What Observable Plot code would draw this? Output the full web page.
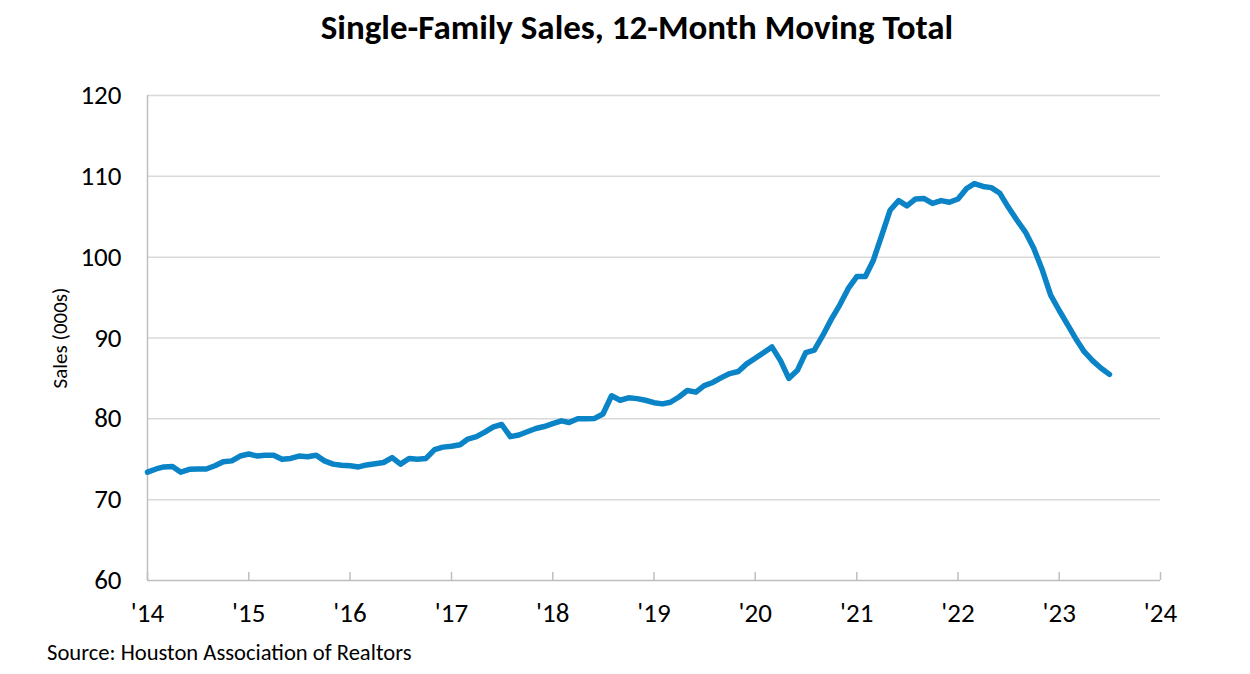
<!DOCTYPE html>
<html>
<head>
<meta charset="utf-8">
<script src="https://cdn.jsdelivr.net/npm/d3@7"></script>
<script src="https://cdn.jsdelivr.net/npm/@observablehq/plot@0.6"></script>
<style>
  html, body { margin: 0; padding: 0; background: #fff; }
  #wrap { position: relative; width: 1250px; height: 674px; font-family: Carlito, Calibri, Lato, sans-serif; color: #000; }
  #title { position: absolute; left: 0; top: 6px; width: 1274px; text-align: center; font-weight: bold; font-size: 35px; line-height: 42px; }
  #chart { position: absolute; left: 0; top: 55px; }
  #caption { position: absolute; left: 47px; top: 638px; font-size: 22.6px; line-height: 28px; }
</style>
</head>
<body>
<div id="wrap">
  <div id="title">Single-Family Sales, 12-Month Moving Total</div>
  <div id="chart"></div>
  <div id="caption">Source: Houston Association of Realtors</div>
</div>
<script>
// First month of the series (Jan 2014), monthly values in thousands
const startYear = 2014;
const startMonth = 0;
const sales2014 = [73.4, 73.8, 74.05, 74.1, 73.4, 73.75, 73.8, 73.8, 74.2, 74.7, 74.8, 75.4];
const sales2015 = [75.65, 75.4, 75.5, 75.5, 75.0, 75.1, 75.4, 75.3, 75.5, 74.8, 74.4, 74.25];
const sales2016 = [74.2, 74.05, 74.3, 74.45, 74.6, 75.2, 74.4, 75.1, 75.0, 75.1, 76.2, 76.5];
const sales2017 = [76.6, 76.8, 77.5, 77.8, 78.35, 79.0, 79.3, 77.8, 78.0, 78.4, 78.8, 79.05];
const sales2018 = [79.4, 79.75, 79.55, 80.0, 80.0, 80.05, 80.6, 82.85, 82.3, 82.6, 82.5, 82.3];
const sales2019 = [82.0, 81.85, 82.05, 82.7, 83.5, 83.3, 84.1, 84.5, 85.1, 85.6, 85.85, 86.8];
const sales2020 = [87.5, 88.2, 88.9, 87.2, 85.0, 86.0, 88.2, 88.5, 90.35, 92.3, 94.1, 96.1];
const sales2021 = [97.6, 97.6, 99.55, 102.7, 105.8, 107.0, 106.35, 107.2, 107.25, 106.65, 107.0, 106.8];
const sales2022 = [107.2, 108.5, 109.1, 108.75, 108.6, 107.9, 106.2, 104.6, 103.1, 101.1, 98.4, 95.3];
const sales2023 = [93.4, 91.6, 89.95, 88.3, 87.2, 86.25, 85.5];

const yTicks = [60, 70, 80, 90, 100, 110, 120];
const xTickYears = [2014, 2015, 2016, 2017, 2018, 2019, 2020, 2021, 2022, 2023, 2024];
const xTickLabels = ["'14", "'15", "'16", "'17", "'18", "'19", "'20", "'21", "'22", "'23", "'24"];

const values = [].concat(sales2014, sales2015, sales2016, sales2017, sales2018,
                         sales2019, sales2020, sales2021, sales2022, sales2023);
const data = values.map((v, i) => ({date: new Date(Date.UTC(startYear, startMonth + i, 1)), value: v}));
const xTicks = xTickYears.map(y => new Date(Date.UTC(y, 0, 1)));
const labelOf = new Map(xTicks.map((d, i) => [+d, xTickLabels[i]]));

const chart = Plot.plot({
  width: 1250,
  height: 580,
  marginLeft: 147,
  marginRight: 90,
  marginTop: 40,
  marginBottom: 55,
  style: {fontFamily: "Carlito, Calibri, Lato, sans-serif", fontSize: "27px", color: "#000", background: "#fff"},
  x: {type: "utc", domain: [xTicks[0], xTicks[xTicks.length - 1]]},
  y: {domain: [60, 120]},
  marks: [
    Plot.gridY(yTicks.filter(t => t > 60), {stroke: "#d9d9d9", strokeOpacity: 1, strokeWidth: 1.5}),
    Plot.ruleX([xTicks[0]], {stroke: "#bfbfbf", strokeWidth: 1.5}),
    Plot.ruleY([60], {stroke: "#bfbfbf", strokeWidth: 1.5}),
    Plot.ruleX(xTicks, {x: d => d, y1: 60, y2: 61, stroke: "#bfbfbf", strokeWidth: 1.5}),
    Plot.axisY(yTicks, {tickSize: 0, tickPadding: 26, label: "Sales (000s)", labelAnchor: "center", labelArrow: "none", labelOffset: 95}),
    Plot.axisX(xTicks, {tickSize: 0, tickPadding: 22, tickFormat: d => labelOf.get(+d), label: null}),
    Plot.line(data, {x: "date", y: "value", stroke: "#0a84c6", strokeWidth: 5.5, strokeLinejoin: "round", strokeLinecap: "round"})
  ]
});
document.getElementById("chart").appendChild(chart);
d3.select(chart).selectAll('[aria-label="y-axis label"]').attr("font-size", 21).style("font-size", "21px");
d3.select(chart).selectAll('[aria-label="y-axis label"] text').attr("font-size", 21).style("font-size", "21px");
</script>
</body>
</html>
